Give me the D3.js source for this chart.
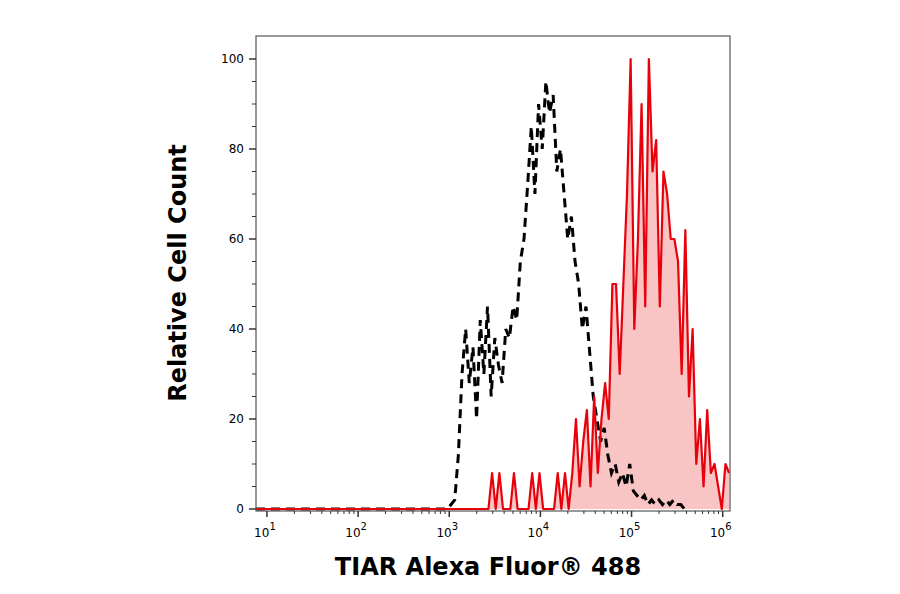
<!DOCTYPE html>
<html><head><meta charset="utf-8">
<script src="https://cdn.jsdelivr.net/npm/d3@7"></script>
<style>body{margin:0;background:#fff}text{font-family:"DejaVu Sans",Verdana,sans-serif}</style>
</head><body><svg id="chart" width="900" height="594"></svg>
<script>
// bin start (log10) and step
const controlStart = 3.02, tiarStart = 3.03, binStep = 0.04;
const controlCounts = [1,2,12,30,40,28,36,20,42,30,45,25,38,32,28,40,38,45,42,55,60,72,85,70,90,80,95,88,92,75,80,70,60,65,55,50,40,45,35,25,20,15,18,12,8,10,6,8,5,10,4,3,2,3,1,2,1,2,1,2,1,2,1,1,0];
const tiarCounts = [0,0,0,0,0,0,0,0,0,0,0,8,0,8,0,0,0,8,0,0,0,0,8,0,8,0,0,0,0,8,0,8,0,8,20,5,15,22,5,25,8,20,28,20,50,50,30,50,70,100,40,60,90,45,100,75,82,45,75,70,60,60,55,30,62,25,40,10,20,5,22,8,10,5,0,10,8];
const yTicks = [0,20,40,60,80,100];
const xDecades = [1,2,3,4,5,6];

const svg = d3.select("#chart");
const m = {left:256, top:36, right:730, bottom:511};
const x = d3.scaleLinear().domain([0.88, 6.08]).range([m.left, m.right]);
const y = d3.scaleLinear().domain([0, 105]).range([m.bottom - 2, m.bottom - 2 - 105*4.5]);

const toPts = (arr, start) => [[0.88,0],[start - binStep,0]].concat(arr.map((v,i)=>[start + i*binStep, v]));
const line = d3.line().x(d=>x(d[0])).y(d=>y(d[1]));
const area = d3.area().x(d=>x(d[0])).y0(y(0)).y1(d=>y(d[1]));

const tiarPts = toPts(tiarCounts, tiarStart);
svg.append("path").attr("d", area(tiarPts)).attr("fill", "#f8c4c4");
svg.append("path").attr("d", line(toPts(controlCounts, controlStart))).attr("fill","none")
  .attr("stroke","#000").attr("stroke-width",3).attr("stroke-dasharray","9,6");
svg.append("path").attr("d", line(tiarPts)).attr("fill","none")
  .attr("stroke","#e8000b").attr("stroke-width",2.2).attr("stroke-linejoin","round");

// frame
svg.append("rect").attr("x",m.left).attr("y",m.top).attr("width",m.right-m.left).attr("height",m.bottom-m.top)
  .attr("fill","none").attr("stroke","#555").attr("stroke-width",1.2);

// y axis
const yAxis = svg.append("g");
d3.range(0,101,5).forEach(v=>{
  const major = v%20===0;
  yAxis.append("line").attr("x1",m.left-(major?7:4)).attr("x2",m.left).attr("y1",y(v)).attr("y2",y(v)).attr("stroke","#333").attr("stroke-width",major?1.5:1);
});
yTicks.forEach(v=>yAxis.append("text").attr("x",m.left-12).attr("y",y(v)+4).attr("text-anchor","end").attr("font-size",12).text(v));

// x axis
const xAxis = svg.append("g");
d3.range(1,7).forEach(d=>{
  for(let k=1;k<=9;k++){
    const lv = d + Math.log10(k);
    if (lv < 0.88 || lv > 6.08) continue;
    const major = k===1;
    xAxis.append("line").attr("x1",x(lv)).attr("x2",x(lv)).attr("y1",m.bottom).attr("y2",m.bottom+(major?6:3)).attr("stroke","#333").attr("stroke-width",major?1.5:1);
  }
});
xDecades.forEach(d=>{
  const t = xAxis.append("text").attr("x",x(d)-2).attr("y",537).attr("text-anchor","middle").attr("font-size",12);
  t.append("tspan").text("10");
  t.append("tspan").attr("dy",-7).attr("font-size",10).text(d);
});

svg.append("text").attr("x",488).attr("y",575).attr("text-anchor","middle").attr("font-size",24).attr("font-weight","bold").text("TIAR Alexa Fluor® 488");
svg.append("text").attr("transform","translate(186,273) rotate(-90)").attr("text-anchor","middle").attr("font-size",24).attr("font-weight","bold").text("Relative Cell Count");
</script></body></html>
